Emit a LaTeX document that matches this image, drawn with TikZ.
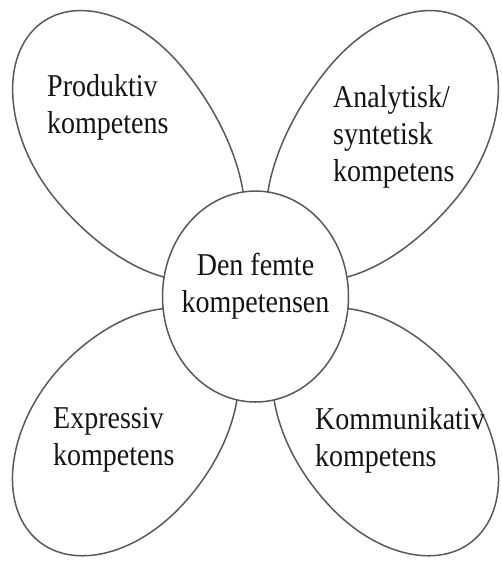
\documentclass[tikz,border=0pt]{standalone}
\usepackage{fontspec}
\setmainfont{Liberation Serif}
\begin{document}
\begin{tikzpicture}[x=1pt,y=-1pt,yscale=1.134,transform shape,
  petal/.style={draw=black!65, line width=1.5pt},
  ptext/.style={font=\fontsize{28}{32.5}\selectfont, text=black!92, align=left, anchor=west, inner sep=0pt}]
\useasboundingbox (0,0) rectangle (502,500);
% petals (egg shapes: outer half radius 125, inner half radius a2)
\begin{scope}[shift={(118.9,117.6)}, rotate=133.5]
  \draw[petal] (0,-86) arc[start angle=90, end angle=-90, x radius=125pt, y radius=86pt]
    arc[start angle=270, end angle=90, x radius=159pt, y radius=86pt] -- cycle;
\end{scope}
\begin{scope}[shift={(392.1,117.6)}, rotate=46.5]
  \draw[petal] (0,-86) arc[start angle=90, end angle=-90, x radius=125pt, y radius=86pt]
    arc[start angle=270, end angle=90, x radius=159pt, y radius=86pt] -- cycle;
\end{scope}
\begin{scope}[shift={(121.4,384.5)}, rotate=222.5]
  \draw[petal] (0,-86) arc[start angle=90, end angle=-90, x radius=125pt, y radius=86pt]
    arc[start angle=270, end angle=90, x radius=138pt, y radius=86pt] -- cycle;
\end{scope}
\begin{scope}[shift={(389.6,384.5)}, rotate=-42.5]
  \draw[petal] (0,-86) arc[start angle=90, end angle=-90, x radius=125pt, y radius=86pt]
    arc[start angle=270, end angle=90, x radius=138pt, y radius=86pt] -- cycle;
\end{scope}
% centre
\node[draw=black!65, line width=1.5pt, fill=white, circle, minimum size=186pt, inner sep=0pt] (core) at (255.5,261.5) {};
\node[ptext, anchor=center, align=center] (tcore) at (255.5,252.6) {Den femte\\kompetensen};
\node[ptext] (tprod) at (47,94.8) {Produktiv\\kompetens};
\node[ptext] (tanal) at (333,120.8) {Analytisk/\\syntetisk\\kompetens};
\node[ptext] (texpr) at (53,388) {Expressiv\\kompetens};
\node[ptext] (tkomm) at (315,388) {Kommunikativ\\kompetens};
\end{tikzpicture}
\end{document}
